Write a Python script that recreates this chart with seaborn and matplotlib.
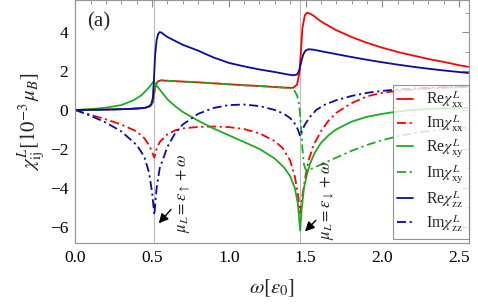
import numpy as np
import pandas as pd
import seaborn as sns
import matplotlib.pyplot as plt
from matplotlib.ticker import MultipleLocator

# ===== DATA =====
re_xx_x = [0, 0.2, 0.35, 0.45, 0.49, 0.505, 0.515, 0.525, 0.54, 0.56, 0.6, 0.7, 0.8, 0.9, 1.0, 1.1, 1.2, 1.3,
           1.38, 1.42, 1.445, 1.46, 1.47, 1.48, 1.495, 1.51, 1.53, 1.56, 1.6, 1.7, 1.8, 1.9, 2.0, 2.1, 2.2,
           2.3, 2.4, 2.5, 2.56]
re_xx_y = [0, 0.02, 0.05, 0.1, 0.2, 0.4, 0.9, 1.3, 1.48, 1.52, 1.5, 1.46, 1.42, 1.37, 1.32, 1.27, 1.23, 1.18,
           1.14, 1.14, 1.3, 1.9, 3.0, 4.2, 4.85, 5.0, 4.95, 4.8, 4.55, 4.1, 3.75, 3.45, 3.2, 2.98, 2.8,
           2.62, 2.47, 2.3, 2.22]

im_xx_x = [0, 0.1, 0.2, 0.3, 0.4, 0.45, 0.48, 0.5, 0.515, 0.53, 0.55, 0.6, 0.65, 0.7, 0.8, 0.9, 1.0, 1.1,
           1.2, 1.3, 1.35, 1.4, 1.43, 1.45, 1.465, 1.48, 1.5, 1.52, 1.55, 1.6, 1.65, 1.7, 1.8, 1.9, 2.0,
           2.1, 2.2, 2.3, 2.4, 2.5, 2.56]
im_xx_y = [0, -0.25, -0.48, -0.75, -1.1, -1.45, -1.8, -2.15, -2.45, -2.0, -1.65, -1.25, -1.05, -0.95, -0.87,
           -0.85, -0.88, -0.98, -1.2, -1.6, -1.95, -2.6, -3.4, -4.3, -5.3, -4.4, -3.4, -2.6, -1.85, -1.1,
           -0.55, -0.15, 0.35, 0.7, 0.88, 0.98, 1.05, 1.1, 1.14, 1.17, 1.19]

re_xy_x = [0, 0.1, 0.2, 0.3, 0.38, 0.43, 0.465, 0.49, 0.505, 0.512, 0.52, 0.535, 0.55, 0.6, 0.65, 0.7, 0.8,
           0.9, 1.0, 1.1, 1.2, 1.3, 1.36, 1.4, 1.43, 1.45, 1.465, 1.475, 1.49, 1.51, 1.53, 1.56, 1.6, 1.65,
           1.7, 1.8, 1.9, 2.0, 2.1, 2.2, 2.3, 2.4, 2.5, 2.56]
re_xy_y = [0, 0.04, 0.12, 0.25, 0.5, 0.75, 1.03, 1.25, 1.42, 1.47, 1.35, 1.2, 1.05, 0.55, 0.2, -0.1, -0.55,
           -0.95, -1.3, -1.65, -2.0, -2.5, -2.95, -3.4, -4.0, -4.8, -6.2, -5.1, -4.0, -3.3, -2.75, -2.2,
           -1.7, -1.3, -1.0, -0.6, -0.35, -0.2, -0.08, 0.0, 0.05, 0.08, 0.1, 0.11]

im_xy_x = [0, 0.2, 0.35, 0.45, 0.49, 0.505, 0.515, 0.525, 0.54, 0.56, 0.6, 0.7, 0.8, 0.9, 1.0, 1.1, 1.2, 1.3,
           1.38, 1.42, 1.445, 1.46, 1.47, 1.48, 1.49, 1.5, 1.515, 1.53, 1.56, 1.6, 1.7, 1.8, 1.9, 2.0, 2.1,
           2.2, 2.3, 2.4, 2.5, 2.56]
im_xy_y = [0, 0.02, 0.05, 0.1, 0.2, 0.4, 0.9, 1.3, 1.48, 1.52, 1.5, 1.46, 1.42, 1.37, 1.32, 1.27, 1.23, 1.18,
           1.14, 1.1, 0.75, 0.2, -0.8, -2.0, -2.8, -3.05, -3.1, -3.05, -2.95, -2.8, -2.45, -2.1, -1.8,
           -1.55, -1.35, -1.2, -1.08, -1.0, -0.93, -0.9]

re_zz_x = [0, 0.2, 0.35, 0.45, 0.48, 0.495, 0.505, 0.512, 0.52, 0.53, 0.54, 0.55, 0.56, 0.6, 0.7, 0.8, 0.9,
           1.0, 1.1, 1.2, 1.3, 1.38, 1.42, 1.445, 1.46, 1.47, 1.485, 1.5, 1.52, 1.55, 1.6, 1.7, 1.8, 1.9,
           2.0, 2.1, 2.2, 2.3, 2.4, 2.5, 2.56]
re_zz_y = [0, 0.02, 0.05, 0.1, 0.18, 0.3, 0.6, 1.5, 2.8, 3.6, 3.9, 4.0, 3.98, 3.75, 3.35, 3.05, 2.7, 2.42,
           2.24, 2.08, 1.95, 1.83, 1.78, 1.82, 2.05, 2.4, 2.85, 3.05, 3.12, 3.1, 3.02, 2.87, 2.72, 2.58,
           2.45, 2.33, 2.22, 2.12, 2.03, 1.95, 1.9]

im_zz_x = [0, 0.1, 0.2, 0.3, 0.4, 0.45, 0.48, 0.5, 0.515, 0.53, 0.55, 0.6, 0.65, 0.7, 0.8, 0.9, 1.0, 1.1,
           1.2, 1.3, 1.36, 1.4, 1.43, 1.45, 1.465, 1.48, 1.5, 1.53, 1.57, 1.62, 1.7, 1.8, 1.9, 2.0, 2.1,
           2.2, 2.3, 2.4, 2.5, 2.56]
im_zz_y = [0, -0.3, -0.65, -1.1, -1.8, -2.4, -3.2, -4.2, -5.4, -4.0, -3.0, -1.9, -1.2, -0.75, -0.2, 0.1,
           0.25, 0.28, 0.2, 0.0, -0.2, -0.42, -0.7, -1.0, -1.35, -1.0, -0.7, -0.35, 0.0, 0.25, 0.5, 0.72,
           0.88, 0.98, 1.05, 1.1, 1.14, 1.17, 1.19, 1.2]

resonances = [0.516, 1.465]

RED, GREEN, BLUE = "#ff0000", "#1fab1f", "#0b0b9e"
DASHDOT = (5, 2, 1.2, 2)

curves = [
    (re_xx_x, re_xx_y, RED, None, r"Re$\chi^{L}_{\rm xx}$"),
    (im_xx_x, im_xx_y, RED, DASHDOT, r"Im$\chi^{L}_{\rm xx}$"),
    (re_xy_x, re_xy_y, GREEN, None, r"Re$\chi^{L}_{\rm xy}$"),
    (im_xy_x, im_xy_y, GREEN, DASHDOT, r"Im$\chi^{L}_{\rm xy}$"),
    (re_zz_x, re_zz_y, BLUE, None, r"Re$\chi^{L}_{\rm zz}$"),
    (im_zz_x, im_zz_y, BLUE, DASHDOT, r"Im$\chi^{L}_{\rm zz}$"),
]

# ===== STYLE =====
sns.set_theme(style="white")
plt.rcParams["font.family"] = ["Liberation Serif", "DejaVu Serif"]
plt.rcParams["mathtext.fontset"] = "stix"

fig = plt.figure(figsize=(4.78, 3.07), dpi=100)
ax = fig.add_axes([0.1575, 0.2075, 0.8236, 0.7925])

for r in resonances:
    ax.axvline(r, color="#bbbbbb", lw=0.8, zorder=0)

for xs, ys, col, dash, lab in curves:
    df = pd.DataFrame({"w": xs, "chi": ys})
    kw = {"dashes": dash} if dash else {}
    sns.lineplot(data=df, x="w", y="chi", ax=ax, color=col, lw=1.3, sort=False,
                 estimator=None, label=lab, **kw)

ax.set_xlim(0, 2.565)
ax.set_ylim(-6.85, 5.65)
ax.xaxis.set_major_locator(MultipleLocator(0.5))
ax.xaxis.set_minor_locator(MultipleLocator(0.1))
ax.yaxis.set_major_locator(MultipleLocator(2))
ax.yaxis.set_minor_locator(MultipleLocator(1))
ax.tick_params(which="both", direction="in", top=True, right=True, color="#888888",
               labelsize=12.5, pad=5, labelcolor="black")
ax.tick_params(which="major", length=5, width=0.8)
ax.tick_params(which="minor", length=3, width=0.6)
ax.xaxis.set_major_formatter(plt.FuncFormatter(lambda v, p: f"{v:.1f}"))
ax.yaxis.set_major_formatter(plt.FuncFormatter(lambda v, p: f"{v:.0f}".replace("-", "\u2212")))
for s in ax.spines.values():
    s.set_color("#999999")
    s.set_linewidth(0.9)

ax.set_xlabel(r"$\omega[\epsilon_0]$", fontsize=15, labelpad=8)
ax.set_ylabel(r"$\chi^{L}_{\rm ij}[10^{-3}\,\mu_B]$", fontsize=15, labelpad=2)
ax.text(0.03, 0.95, "(a)", transform=ax.transAxes, fontsize=15, va="top", ha="left")

# resonance annotations
ax.annotate("", xy=(0.532, -5.93), xytext=(0.636, -5.0),
            arrowprops=dict(arrowstyle="-|>", color="black", lw=1.0, mutation_scale=14))
ax.text(0.705, -6.3, r"$\mu_L = \epsilon_{\uparrow} + \omega$", rotation=90, fontsize=12,
        ha="center", va="bottom")
ax.annotate("", xy=(1.484, -6.34), xytext=(1.58, -5.57),
            arrowprops=dict(arrowstyle="-|>", color="black", lw=1.0, mutation_scale=14))
ax.text(1.642, -6.7, r"$\mu_L = \epsilon_{\downarrow} + \omega$", rotation=90, fontsize=12,
        ha="center", va="bottom")

leg = ax.legend(loc="lower right", bbox_to_anchor=(1.0, 0.018), borderaxespad=0, fontsize=11.5,
                handlelength=1.0, handletextpad=0.8, labelspacing=0.2, frameon=True,
                fancybox=False, borderpad=0.3)
leg.get_frame().set_edgecolor("#777777")
leg.get_frame().set_linewidth(0.8)

fig.savefig("out.png", dpi=100)
